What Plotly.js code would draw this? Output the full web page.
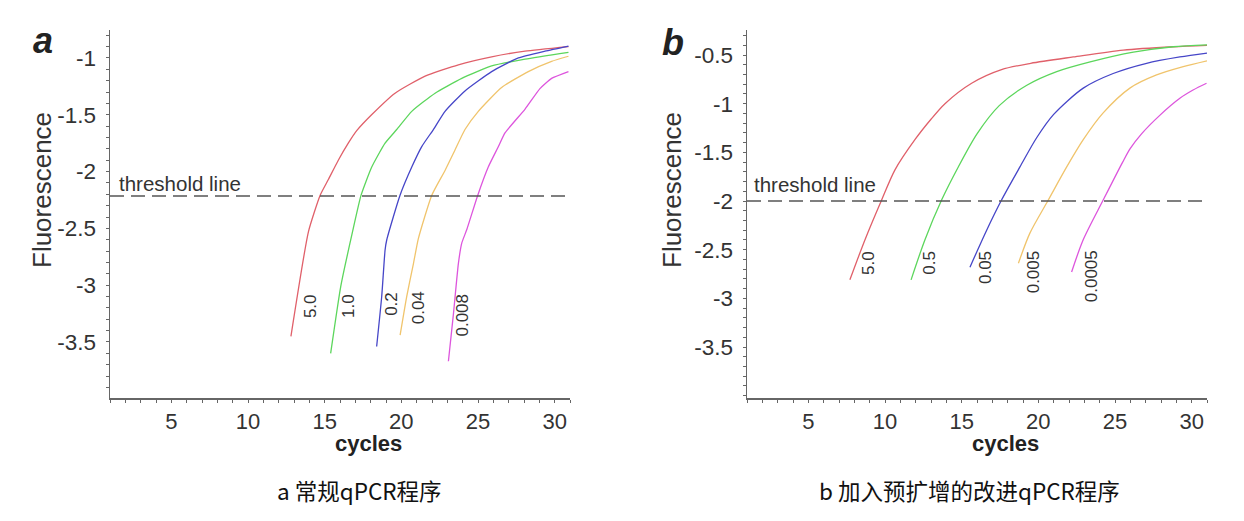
<!DOCTYPE html>
<html>
<head>
<meta charset="utf-8">
<script src="https://cdn.plot.ly/plotly-3.0.1.min.js"></script>
<style>html,body{margin:0;padding:0;background:#fff;}#chart{width:1244px;height:521px;}</style>
</head>
<body>
<div id="chart"></div>
<script>
// ---------- data ----------
const concA = ["5.0", "1.0", "0.2", "0.04", "0.008"];
const concB = ["5.0", "0.5", "0.05", "0.005", "0.0005"];
const thresholdA = -2.215;
const thresholdB = -2.0;

// panel a: conventional qPCR
const a1x = [12.8, 13.94, 14.7, 15.24, 15.89, 16.54, 17.09, 18.06, 19.59, 21.55, 23.72, 25.89, 28.07, 30.9];
const a1y = [-3.45, -2.53, -2.21, -2.07, -1.90, -1.75, -1.64, -1.50, -1.31, -1.16, -1.06, -0.99, -0.94, -0.90];
const a2x = [15.39, 16.05, 16.8, 17.37, 18.07, 18.94, 19.7, 20.68, 22.2, 23.94, 25.89, 28.07, 30.9];
const a2y = [-3.60, -3.01, -2.54, -2.21, -1.96, -1.75, -1.63, -1.47, -1.31, -1.18, -1.07, -1.01, -0.95];
const a3x = [18.39, 18.72, 18.94, 19.05, 19.91, 20.68, 21.33, 22.09, 22.85, 24.15, 25.89, 27.63, 29.37, 30.9];
const a3y = [-3.54, -3.10, -2.69, -2.60, -2.21, -1.96, -1.78, -1.63, -1.47, -1.29, -1.12, -1.00, -0.94, -0.895];
const a4x = [19.92, 20.35, 20.79, 21.11, 21.98, 22.85, 23.5, 24.15, 25.02, 26.54, 28.28, 29.8, 30.9];
const a4y = [-3.44, -3.10, -2.81, -2.59, -2.21, -1.99, -1.81, -1.63, -1.47, -1.26, -1.12, -1.03, -0.985];
const a5x = [23.07, 23.4, 23.72, 23.94, 24.27, 24.98, 25.67, 26.33, 26.76, 28.07, 29.04, 29.8, 30.9];
const a5y = [-3.67, -3.25, -2.81, -2.63, -2.51, -2.21, -1.96, -1.78, -1.66, -1.45, -1.27, -1.18, -1.12];

// panel b: improved qPCR with pre-amplification
const b1x = [7.71, 8.69, 9.78, 10.65, 11.95, 13.0, 13.91, 15.65, 17.6, 19.5, 22.28, 25.54, 28.79, 31.0];
const b1y = [-2.81, -2.40, -1.99, -1.68, -1.37, -1.16, -1.00, -0.79, -0.65, -0.585, -0.52, -0.45, -0.415, -0.40];
const b2x = [11.7, 12.6, 13.69, 14.78, 16.0, 17.45, 19.25, 21.2, 23.38, 26.2, 28.79, 31.0];
const b2y = [-2.81, -2.40, -1.99, -1.65, -1.31, -1.02, -0.81, -0.67, -0.57, -0.47, -0.415, -0.395];
const b3x = [15.54, 16.63, 17.6, 18.8, 19.89, 21.0, 22.93, 24.88, 27.06, 29.23, 31.0];
const b3y = [-2.68, -2.30, -1.99, -1.65, -1.35, -1.11, -0.84, -0.69, -0.585, -0.52, -0.48];
const b4x = [18.7, 19.45, 20.65, 21.85, 22.93, 24.2, 25.97, 27.71, 29.45, 31.0];
const b4y = [-2.64, -2.33, -1.99, -1.65, -1.37, -1.10, -0.84, -0.705, -0.62, -0.56];
const b5x = [22.17, 22.92, 24.23, 25.5, 26.0, 26.73, 27.92, 29.23, 30.09, 30.97];
const b5y = [-2.73, -2.40, -1.99, -1.60, -1.46, -1.31, -1.12, -0.945, -0.86, -0.79];

// tick labels
const xTickVals = [5, 10, 15, 20, 25, 30];
const xTickText = ["5", "10", "15", "20", "25", "30"];
const yTickValsA = [-1, -1.5, -2, -2.5, -3, -3.5];
const yTickTextA = ["-1", "-1.5", "-2", "-2.5", "-3", "-3.5"];
const yTickValsB = [-0.5, -1, -1.5, -2, -2.5, -3, -3.5];
const yTickTextB = ["-0.5", "-1", "-1.5", "-2", "-2.5", "-3", "-3.5"];

const captionA = "a 常规qPCR程序";
const captionB = "b 加入预扩增的改进qPCR程序";

// label anchor positions (cycle, top value) for the rotated concentration labels
const labelPosA = [[14.05, -3.06], [16.52, -3.06], [19.4, -3.04], [21.09, -3.04], [23.96, -3.06]];
const labelPosB = [[8.91, -2.49], [12.93, -2.49], [16.51, -2.49], [19.66, -2.49], [23.47, -2.49]];

// ---------- styling ----------
const colors = ["#e0606a", "#5cd65c", "#4646c8", "#f0c46c", "#dd55dd"];
const FONT = "Liberation Sans, Arial, sans-serif";
const AXC = "#666";
const TXT = "#333";

const seriesA = [[a1x, a1y], [a2x, a2y], [a3x, a3y], [a4x, a4y], [a5x, a5y]];
const seriesB = [[b1x, b1y], [b2x, b2y], [b3x, b3y], [b4x, b4y], [b5x, b5y]];

const traces = [];
seriesA.forEach((s, i) => traces.push({
  x: s[0], y: s[1], type: "scatter", mode: "lines", xaxis: "x", yaxis: "y",
  line: {color: colors[i], width: 1.3, shape: "spline", smoothing: 0.5}, name: concA[i], hoverinfo: "skip"
}));
seriesB.forEach((s, i) => traces.push({
  x: s[0], y: s[1], type: "scatter", mode: "lines", xaxis: "x2", yaxis: "y2",
  line: {color: colors[i], width: 1.3, shape: "spline", smoothing: 0.8}, name: concB[i], hoverinfo: "skip"
}));

const xDomA = [110 / 1244, 570 / 1244];
const xDomB = [747 / 1244, 1207 / 1244];
const yDom = [1 - 398 / 521, 1 - 30 / 521];
const xRange = [1, 31];
const yRangeA = [-3.993, -0.754];
const yRangeB = [-4.024, -0.243];

function xAxis(domain, anchor, inside) {
  return {
    domain: domain, anchor: anchor, range: xRange, fixedrange: true,
    showline: !inside, linecolor: AXC, linewidth: 1.5,
    showgrid: false, zeroline: false,
    ticks: inside ? "inside" : "outside", ticklen: 3, tickwidth: 1, tickcolor: AXC,
    tickmode: "array", tickvals: xTickVals, ticktext: xTickText,
    showticklabels: !inside, ticklabelstandoff: 0,
    tickfont: {family: FONT, size: 22, color: TXT},
    minor: {tickmode: "linear", tick0: 0, dtick: 1, ticks: inside ? "inside" : "outside",
            ticklen: 3, tickwidth: 1, tickcolor: AXC, showgrid: false}
  };
}
function yAxis(domain, anchor, range, vals, text, inside) {
  return {
    domain: domain, anchor: anchor, range: range, fixedrange: true,
    showline: !inside, linecolor: AXC, linewidth: 1.5,
    showgrid: false, zeroline: false,
    ticks: inside ? "inside" : "outside", ticklen: 3, tickwidth: 1, tickcolor: AXC,
    tickmode: "array", tickvals: vals, ticktext: text,
    showticklabels: !inside, ticklabelstandoff: 5,
    tickfont: {family: FONT, size: 22.5, color: TXT},
    minor: {tickmode: "linear", tick0: 0, dtick: 0.1, ticks: inside ? "inside" : "outside",
            ticklen: 3, tickwidth: 1, tickcolor: AXC, showgrid: false}
  };
}

const x3 = xAxis(xDomA, "y", true); x3.overlaying = "x";
const y3 = yAxis(yDom, "x", yRangeA, yTickValsA, yTickTextA, true); y3.overlaying = "y";
const x4 = xAxis(xDomB, "y2", true); x4.overlaying = "x2";
const y4 = yAxis(yDom, "x2", yRangeB, yTickValsB, yTickTextB, true); y4.overlaying = "y2";

const annotations = [];
labelPosA.forEach((p, i) => annotations.push({
  xref: "x", yref: "y", x: p[0], y: p[1], text: concA[i], showarrow: false,
  textangle: -90, xanchor: "center", yanchor: "top",
  font: {family: FONT, size: 17, color: TXT}
}));
labelPosB.forEach((p, i) => annotations.push({
  xref: "x2", yref: "y2", x: p[0], y: p[1], text: concB[i], showarrow: false,
  textangle: -90, xanchor: "center", yanchor: "top",
  font: {family: FONT, size: 17, color: TXT}
}));
function paperText(px, py, text, font, angle) {
  return {xref: "paper", yref: "paper", x: px / 1244, y: 1 - py / 521, text: text, showarrow: false,
          xanchor: "center", yanchor: "middle", textangle: angle || 0, font: font};
}
annotations.push(
  {xref: "x", yref: "y", x: 1.45, y: thresholdA, text: "threshold line", showarrow: false,
   xanchor: "left", yanchor: "bottom", yshift: -1, font: {family: FONT, size: 20.5, color: TXT}},
  {xref: "x2", yref: "y2", x: 1.35, y: thresholdB, text: "threshold line", showarrow: false,
   xanchor: "left", yanchor: "bottom", yshift: 3, font: {family: FONT, size: 20.5, color: TXT}},
  paperText(42, 190, "Fluorescence", {family: FONT, size: 26, color: TXT}, -90),
  paperText(672, 190, "Fluorescence", {family: FONT, size: 26, color: TXT}, -90),
  paperText(368, 443, "<b>cycles</b>", {family: FONT, size: 22, color: "#222"}),
  paperText(1005, 443, "<b>cycles</b>", {family: FONT, size: 22, color: "#222"}),
  paperText(43, 40, "<b><i>a</i></b>", {family: FONT, size: 36, color: "#222"}),
  paperText(673, 43, "<b><i>b</i></b>", {family: FONT, size: 36, color: "#222"}),
  paperText(359, 490, captionA, {family: "Noto Sans CJK SC, sans-serif", size: 22.5, color: "#111"}),
  paperText(969, 490, captionB, {family: "Noto Sans CJK SC, sans-serif", size: 22.5, color: "#111"})
);

const shapes = [
  {type: "line", xref: "x domain", yref: "y", x0: 0, x1: 1, y0: thresholdA, y1: thresholdA,
   line: {color: "#555", width: 1.4, dash: "14px,7px"}},
  {type: "line", xref: "x2 domain", yref: "y2", x0: 0, x1: 1, y0: thresholdB, y1: thresholdB,
   line: {color: "#555", width: 1.4, dash: "14px,7px"}}
];

const layout = {
  width: 1244, height: 521,
  margin: {l: 0, r: 0, t: 0, b: 0},
  paper_bgcolor: "#fff", plot_bgcolor: "#fff",
  showlegend: false,
  xaxis: xAxis(xDomA, "y", false),
  yaxis: yAxis(yDom, "x", yRangeA, yTickValsA, yTickTextA, false),
  xaxis2: xAxis(xDomB, "y2", false),
  yaxis2: yAxis(yDom, "x2", yRangeB, yTickValsB, yTickTextB, false),
  xaxis3: x3, yaxis3: y3, xaxis4: x4, yaxis4: y4,
  annotations: annotations,
  shapes: shapes
};

Plotly.newPlot("chart", traces, layout, {displayModeBar: false, staticPlot: true});
</script>
</body>
</html>
